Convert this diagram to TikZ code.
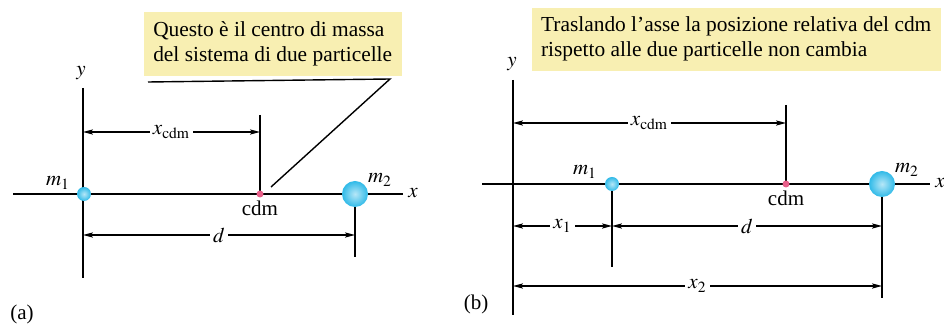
\documentclass[tikz,border=0pt]{standalone}
\usepackage{mathptmx}
\usepackage[no-math]{fontspec}
\setmainfont{Liberation Serif}
\usetikzlibrary{arrows.meta}
\definecolor{notebg}{HTML}{F8EFB2}
\definecolor{ballblue}{HTML}{30BAE8}
\definecolor{cdmpink}{HTML}{E8608A}
\begin{document}
\begin{tikzpicture}[x=0.5pt,y=-0.5pt,line width=0.7pt,
    >={Stealth[length=5pt,width=2.6pt,inset=1.2pt]},
    note/.style={fill=notebg,anchor=north west,align=left,inner xsep=3.5pt,
      font=\fontsize{10.7}{12.4}\selectfont},
    ball/.style={circle,inner sep=0pt,shading=radial,
      inner color=ballblue!35!white,outer color=ballblue},
    cdmdot/.style={circle,inner sep=0pt,minimum size=3.5pt,fill=cdmpink},
    lbl/.style={font=\fontsize{10.5}{12}\selectfont},
    gap/.style={fill=white,inner sep=1.5pt}]
  \useasboundingbox (0,0) rectangle (944,325);
  % (a)
  \node[note,minimum width=129pt,minimum height=32pt] (notea) at (143,11)
    {Questo è il centro di massa\\del sistema di due particelle};
  \coordinate (lead0) at (148,82);
  \coordinate (lead1) at (390,79);
  \coordinate (lead2) at (271,187);
  \draw (lead0) -- (lead1) -- (lead2);
  \coordinate (xaL) at (13,194);
  \coordinate (xaR) at (403,194);
  \coordinate (yaT) at (83,88);
  \coordinate (yaB) at (83,278);
  \draw (xaL) -- (xaR);
  \draw (yaT) -- (yaB);
  \coordinate (cdmaT) at (260,115);
  \coordinate (cdmaO) at (260,194);
  \draw (cdmaT) -- (cdmaO);
  \coordinate (m2aO) at (355,194);
  \coordinate (m2aB) at (355,257);
  \draw (m2aO) -- (m2aB);
  \coordinate (xcdmaL) at (83,132);
  \coordinate (xcdmaR) at (260,132);
  \draw[<->] (xcdmaL) -- node[gap,lbl] {$x_{\mathrm{cdm}}$} (xcdmaR);
  \coordinate (daL) at (83,235);
  \coordinate (daR) at (355,235);
  \draw[<->] (daL) -- node[gap,lbl] {$d$} (daR);
  \node[ball,minimum size=7pt] (m1a) at (84,194) {};
  \node[ball,minimum size=13pt] (m2a) at (355,194) {};
  \node[cdmdot] (cdma) at (260,194) {};
  \node[lbl] (ylaba) at (81,73) {$y$};
  \node[lbl] (xlaba) at (413,193) {$x$};
  \node[lbl] (m1laba) at (58,183) {$m_1$};
  \node[lbl] (m2laba) at (380,180) {$m_2$};
  \node[lbl] (cdmlaba) at (260,208) {cdm};
  \node[lbl] (taga) at (22,314) {(a)};
  % (b)
  \node[note,minimum width=204.5pt,minimum height=31.5pt] (noteb) at (531,7)
    {Traslando l’asse la posizione relativa del cdm\\rispetto alle due particelle non cambia};
  \coordinate (xbL) at (482,184);
  \coordinate (xbR) at (930,184);
  \coordinate (ybT) at (513,80);
  \coordinate (ybB) at (513,315);
  \draw (xbL) -- (xbR);
  \draw (ybT) -- (ybB);
  \coordinate (m1bO) at (612,184);
  \coordinate (m1bB) at (612,267);
  \draw (m1bO) -- (m1bB);
  \coordinate (cdmbT) at (786,105);
  \coordinate (cdmbO) at (786,184);
  \draw (cdmbT) -- (cdmbO);
  \coordinate (m2bO) at (882,184);
  \coordinate (m2bB) at (882,298);
  \draw (m2bO) -- (m2bB);
  \coordinate (xcdmbL) at (513,123);
  \coordinate (xcdmbR) at (786,123);
  \draw[<->] (xcdmbL) -- node[gap,lbl] {$x_{\mathrm{cdm}}$} (xcdmbR);
  \coordinate (x1bL) at (513,226);
  \coordinate (x1bR) at (612,226);
  \draw[<->] (x1bL) -- node[gap,lbl] {$x_1$} (x1bR);
  \coordinate (dbR) at (882,226);
  \draw[<->] (x1bR) -- node[gap,lbl] {$d$} (dbR);
  \coordinate (x2bL) at (513,286);
  \coordinate (x2bR) at (882,286);
  \draw[<->] (x2bL) -- node[gap,lbl] {$x_2$} (x2bR);
  \node[ball,minimum size=7pt] (m1b) at (612,184) {};
  \node[ball,minimum size=13pt] (m2b) at (882,184) {};
  \node[cdmdot] (cdmb) at (786,184) {};
  \node[lbl] (ylabb) at (512,64) {$y$};
  \node[lbl] (xlabb) at (940,183) {$x$};
  \node[lbl] (m1labb) at (585,172) {$m_1$};
  \node[lbl] (m2labb) at (907,170) {$m_2$};
  \node[lbl] (cdmlabb) at (786,198) {cdm};
  \node[lbl] (tagb) at (476,304) {(b)};
\end{tikzpicture}
\end{document}
